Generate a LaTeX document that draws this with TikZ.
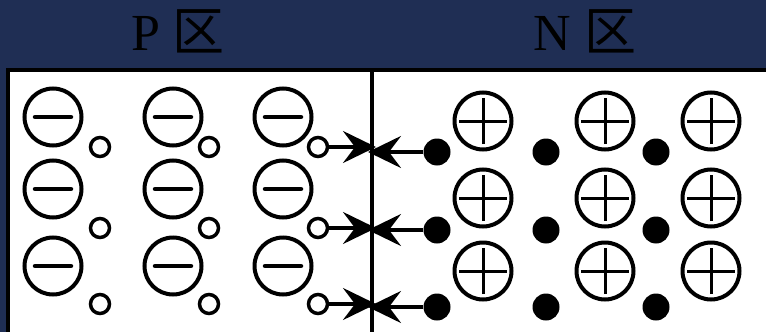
\documentclass[tikz,border=0pt]{standalone}
\usepackage{fontspec}
\setmainfont{Liberation Serif}
\newfontfamily\cjk{Noto Sans CJK SC}
\usetikzlibrary{arrows.meta}
\definecolor{navy}{HTML}{1F2E54}

\tikzset{
  ion/.style={circle,draw,line width=4pt,minimum size=57pt,inner sep=0pt},
  acceptor/.style={ion,path picture={
      \draw[line width=4.5pt,line cap=round]
        ([xshift=-18pt]path picture bounding box.center) -- ([xshift=18pt]path picture bounding box.center);}},
  donor/.style={ion,path picture={
      \draw[line width=3pt]
        ([xshift=-24pt]path picture bounding box.center) -- ([xshift=24pt]path picture bounding box.center);
      \draw[line width=3pt]
        ([yshift=-23pt]path picture bounding box.center) -- ([yshift=23pt]path picture bounding box.center);}},
  hole/.style={circle,draw,line width=3.5pt,minimum size=19pt,inner sep=0pt,fill=white},
  electron/.style={circle,fill=black,minimum size=27pt,inner sep=0pt},
  carrier/.style={-{Stealth[length=33pt,width=32pt,inset=12pt]},line width=3.5pt},
  title/.style={font=\fontsize{52pt}{60pt}\selectfont,anchor=base,inner sep=0pt}
}

\begin{document}
\begin{tikzpicture}[x=1pt,y=-1pt]
  \useasboundingbox (0,0) rectangle (766,332);
  \fill[navy] (0,0) rectangle (766,332);
  \draw[line width=3.5pt,fill=white] (8,70) rectangle (780,345);
  \draw[line width=3.5pt] (372,70) -- (372,340);

  \node[title] (ptitle) at (178,50) {P {\cjk 区}};
  \node[title] (ntitle) at (585,50) {N {\cjk 区}};

  % P side: acceptor ions and holes
  \foreach \c/\x/\hx in {1/53/100,2/173/209,3/283/318}{
    \foreach \r/\y/\hy in {1/117/147,2/189/228,3/266/304}{
      \node[acceptor] (a\c\r) at (\x,\y) {};
      \node[hole] (h\c\r) at (\hx,\hy) {};
    }
  }

  % N side: donor ions and electrons
  \foreach \c/\x/\ex in {1/483/437,2/605/546,3/711/656}{
    \foreach \r/\y/\ey in {1/121/152,2/198/230,3/271/307}{
      \node[donor] (d\c\r) at (\x,\y) {};
      \node[electron] (e\c\r) at (\ex,\ey) {};
    }
  }

  % diffusion towards the junction
  \foreach \r/\hy/\ey in {1/147/152,2/228/230,3/304/307}{
    \coordinate (jp\r) at (376,\hy);
    \coordinate (jn\r) at (368,\ey);
    \draw[carrier] (h3\r) -- (jp\r);
    \draw[carrier] (e1\r) -- (jn\r);
  }
\end{tikzpicture}
\end{document}
